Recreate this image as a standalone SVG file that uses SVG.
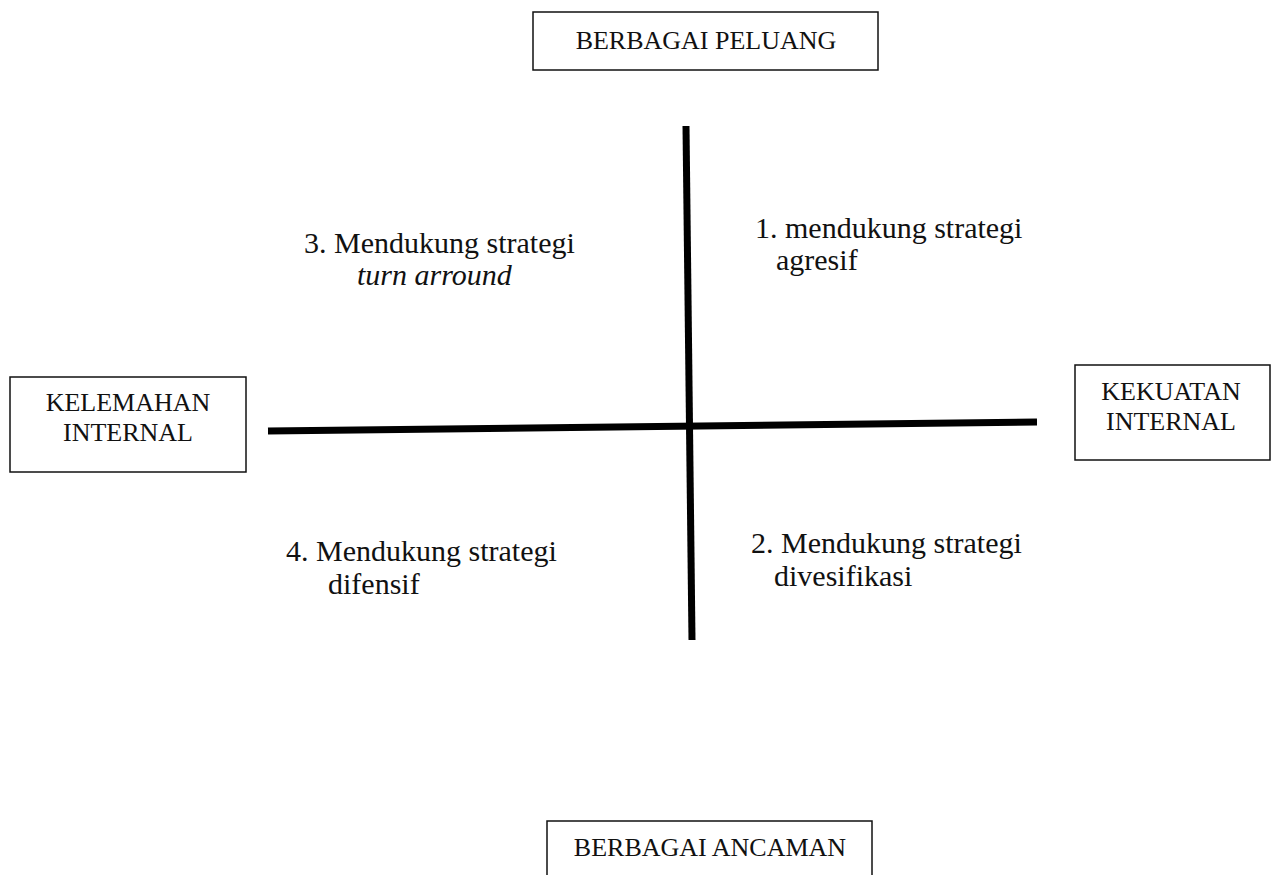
<svg xmlns="http://www.w3.org/2000/svg" width="1273" height="875" viewBox="0 0 1273 875">
<style>
.box{fill:#fff;stroke:#111;stroke-width:1.5}
.bt{font-family:"Liberation Serif","Times New Roman",serif;font-size:26px;fill:#111;text-anchor:middle}
.qt{font-family:"Liberation Serif","Times New Roman",serif;font-size:30px;fill:#111}
.axis{stroke:#000;stroke-width:7;stroke-linecap:butt}
</style>
<rect width="1273" height="875" fill="#fff"/>
<g id="connectors">
<line class="axis" x1="686" y1="126" x2="692" y2="640"/>
<line class="axis" x1="268" y1="431" x2="1037" y2="422"/>
</g>
<g id="peluang">
<rect class="box" x="533" y="12" width="345" height="58"/>
<text class="bt" x="706" y="49">BERBAGAI PELUANG</text>
</g>
<g id="kelemahan">
<rect class="box" x="10" y="377" width="236" height="95"/>
<text class="bt" x="128" y="411">KELEMAHAN</text>
<text class="bt" x="128" y="441">INTERNAL</text>
</g>
<g id="kekuatan">
<rect class="box" x="1075" y="365" width="195" height="95"/>
<text class="bt" x="1171" y="400">KEKUATAN</text>
<text class="bt" x="1171" y="430">INTERNAL</text>
</g>
<g id="ancaman">
<rect class="box" x="547" y="821" width="325" height="60"/>
<text class="bt" x="710" y="856">BERBAGAI ANCAMAN</text>
</g>
<g id="q3">
<text class="qt" x="304" y="253">3. Mendukung strategi</text>
<text class="qt" x="357" y="285" font-style="italic">turn arround</text>
</g>
<g id="q1">
<text class="qt" x="755" y="238">1. mendukung strategi</text>
<text class="qt" x="776" y="270">agresif</text>
</g>
<g id="q4">
<text class="qt" x="286" y="561">4. Mendukung strategi</text>
<text class="qt" x="328" y="594">difensif</text>
</g>
<g id="q2">
<text class="qt" x="751" y="553">2. Mendukung strategi</text>
<text class="qt" x="774" y="586">divesifikasi</text>
</g>
</svg>
